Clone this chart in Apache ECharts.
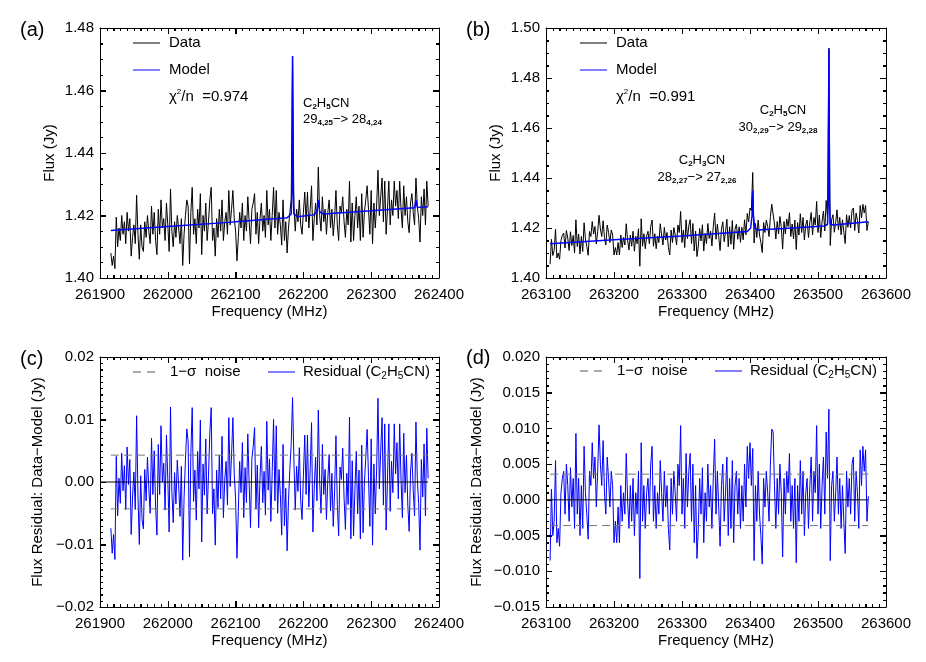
<!DOCTYPE html>
<html>
<head>
<meta charset="utf-8">
<script src="https://cdn.jsdelivr.net/npm/echarts@6/dist/echarts.min.js"></script>
<style>
  html, body { margin: 0; padding: 0; background: #ffffff; }
  #chart { width: 926px; height: 662px; }
</style>
</head>
<body>
<div id="chart"></div>
<script>
// channel grid (MHz)
const STEP = 2
const freqStartA = 261916
const freqStartB = 263106

// (a) observed flux, Jy
const fluxA = [
  1.408, 1.404, 1.407, 1.403, 1.4195, 1.410, 1.416, 1.412, 1.420, 1.414, 1.418, 1.411, 1.421, 1.415, 1.419, 1.407, 1.413, 1.417, 1.411, 1.4265,
  1.414, 1.406, 1.417, 1.410, 1.4085, 1.418, 1.413, 1.420, 1.415, 1.411, 1.423, 1.414, 1.421, 1.412, 1.4075, 1.422, 1.414, 1.425, 1.416, 1.419,
  1.412, 1.424, 1.417, 1.4085, 1.4285, 1.415, 1.410, 1.418, 1.413, 1.420, 1.416, 1.411, 1.419, 1.404, 1.414, 1.420, 1.425, 1.423, 1.4045, 1.421,
  1.429, 1.414, 1.419, 1.411, 1.422, 1.416, 1.427, 1.4075, 1.420, 1.415, 1.424, 1.412, 1.418, 1.425, 1.429, 1.412, 1.416, 1.407, 1.419, 1.413,
  1.422, 1.415, 1.425, 1.412, 1.418, 1.421, 1.414, 1.428, 1.417, 1.422, 1.428, 1.419, 1.415, 1.4055, 1.413, 1.421, 1.416, 1.424, 1.412, 1.420,
  1.415, 1.426, 1.418, 1.411, 1.422, 1.424, 1.427, 1.414, 1.421, 1.411, 1.419, 1.424, 1.415, 1.420, 1.413, 1.428, 1.417, 1.422, 1.412, 1.420,
  1.429, 1.416, 1.428, 1.414, 1.421, 1.417, 1.4105, 1.425, 1.412, 1.418, 1.408, 1.416, 1.421, 1.425, 1.471, 1.423, 1.415, 1.422, 1.418, 1.425,
  1.417, 1.414, 1.421, 1.4275, 1.418, 1.4275, 1.416, 1.422, 1.4295, 1.412, 1.419, 1.424, 1.417, 1.4355, 1.420, 1.415, 1.426, 1.418, 1.422, 1.414,
  1.421, 1.425, 1.416, 1.422, 1.4135, 1.419, 1.428, 1.417, 1.412, 1.423, 1.421, 1.426, 1.418, 1.413, 1.422, 1.417, 1.431, 1.4115, 1.424, 1.412,
  1.420, 1.426, 1.416, 1.423, 1.412, 1.427, 1.413, 1.421, 1.425, 1.4295, 1.422, 1.414, 1.428, 1.411, 1.424, 1.416, 1.423, 1.4345, 1.420, 1.426,
  1.432, 1.418, 1.431, 1.414, 1.422, 1.431, 1.417, 1.425, 1.420, 1.431, 1.423, 1.428, 1.419, 1.431, 1.422, 1.416, 1.4295, 1.420, 1.426, 1.418,
  1.4145, 1.424, 1.427, 1.421, 1.417, 1.432, 1.423, 1.419, 1.4115, 1.426, 1.420, 1.4285, 1.417, 1.431, 1.423
]
// (a) model
const modelAFreq = [261916, 262000, 262090, 262100, 262176, 262182, 262183, 262184, 262185, 262186, 262191, 262215, 262220, 262222, 262224, 262229, 262300, 262364, 262366, 262368, 262384]
const modelAFlux = [1.4152, 1.4165, 1.4178, 1.4180, 1.4193, 1.4205, 1.4280, 1.4710, 1.4280, 1.4205, 1.4196, 1.4202, 1.4212, 1.4250, 1.4212, 1.4205, 1.4215, 1.4225, 1.4250, 1.4226, 1.4228]

// (b) observed flux, Jy
const fluxB = [
  1.4055, 1.4155, 1.409, 1.411, 1.4195, 1.408, 1.410, 1.4075, 1.415, 1.417, 1.418, 1.412, 1.419, 1.416, 1.411, 1.4185, 1.413, 1.417, 1.410, 1.4233,
  1.4126, 1.4176, 1.4096, 1.4166, 1.4106, 1.4221, 1.4156, 1.4126, 1.4091, 1.4186, 1.4166, 1.4226, 1.4176, 1.4206, 1.4136, 1.4186, 1.4251, 1.4196, 1.4166, 1.4229,
  1.4162, 1.4132, 1.4212, 1.4182, 1.4142, 1.4192, 1.4172, 1.4092, 1.4122, 1.4092, 1.4142, 1.4092, 1.4172, 1.4122, 1.4162, 1.4132, 1.4217, 1.4152, 1.4112, 1.4172,
  1.4127, 1.4187, 1.4107, 1.4167, 1.4137, 1.4197, 1.4047, 1.4237, 1.4127, 1.4177, 1.4117, 1.4167, 1.4187, 1.4137, 1.4207, 1.4232, 1.4127, 1.4177, 1.4117, 1.4167,
  1.4142, 1.4217, 1.4172, 1.4132, 1.4202, 1.4152, 1.4182, 1.4122, 1.4092, 1.4192, 1.4142, 1.4202, 1.4172, 1.4132, 1.4212, 1.4182, 1.4266, 1.4142, 1.4192, 1.4122,
  1.4233, 1.4158, 1.4208, 1.4233, 1.4138, 1.4218, 1.4108, 1.4188, 1.4086, 1.4128, 1.4198, 1.4148, 1.4213, 1.4108, 1.4178, 1.4138, 1.4218, 1.4158, 1.4188, 1.4128,
  1.4205, 1.4260, 1.4155, 1.4215, 1.4165, 1.4110, 1.4195, 1.4225, 1.4145, 1.4185, 1.4235, 1.4125, 1.4205, 1.4135, 1.4230, 1.4115, 1.4195, 1.4215, 1.4155, 1.4205,
  1.4143, 1.4203, 1.4153, 1.4233, 1.4173, 1.4258, 1.4224, 1.4280, 1.4270, 1.4422, 1.4140, 1.4218, 1.4162, 1.4232, 1.4172, 1.4142, 1.4102, 1.4222, 1.4182, 1.4232,
  1.4206, 1.4166, 1.4246, 1.4295, 1.4291, 1.4216, 1.4156, 1.4226, 1.4176, 1.4246, 1.4206, 1.4116, 1.4226, 1.4176, 1.4236, 1.4206, 1.4261, 1.4166, 1.4216, 1.4156,
  1.4232, 1.4114, 1.4222, 1.4172, 1.4257, 1.4182, 1.4242, 1.4152, 1.4212, 1.4232, 1.4162, 1.4222, 1.4262, 1.4172, 1.4242, 1.4212, 1.4306, 1.4182, 1.4252, 1.4162,
  1.4228, 1.4268, 1.4188, 1.4310, 1.4240, 1.4920, 1.4130, 1.4233, 1.4253, 1.4183, 1.4223, 1.4273, 1.4193, 1.4243, 1.4173, 1.4233, 1.4183, 1.4138, 1.4253, 1.4203,
  1.4250, 1.4200, 1.4270, 1.4280, 1.4190, 1.4260, 1.4230, 1.4180, 1.4290, 1.4240, 1.4295, 1.4260, 1.4290, 1.4190, 1.4225
]
// (b) model
const modelBFreq = [263106, 263200, 263300, 263396, 263401, 263403, 263404, 263405, 263407, 263411, 263450, 263510, 263514, 263515, 263516, 263517, 263518, 263523, 263574]
const modelBFlux = [1.4137, 1.4153, 1.4168, 1.4186, 1.4200, 1.4250, 1.4350, 1.4250, 1.4200, 1.4192, 1.4198, 1.4208, 1.4215, 1.4300, 1.4915, 1.4300, 1.4215, 1.4212, 1.4225]

// (c) residual, Jy
const residualC = [
  -0.0074, -0.0114, -0.0084, -0.0124, 0.0041, -0.0054, 0.0006, -0.0034, 0.0046, -0.0014, 0.0026, -0.0044, 0.0056, -0.0004, 0.0036, -0.0084, -0.0024, 0.0016, -0.0044, 0.0106,
  -0.0020, -0.0100, 0.0010, -0.0060, -0.0075, 0.0020, -0.0030, 0.0040, -0.0010, -0.0050, 0.0070, -0.0020, 0.0050, -0.0040, -0.0085, 0.0060, -0.0020, 0.0090, 0.0000, 0.0030,
  -0.0045, 0.0075, 0.0005, -0.0080, 0.0120, -0.0015, -0.0065, 0.0015, -0.0035, 0.0035, -0.0005, -0.0055, 0.0025, -0.0125, -0.0025, 0.0035, 0.0085, 0.0065, -0.0120, 0.0045,
  0.0119, -0.0031, 0.0019, -0.0061, 0.0049, -0.0011, 0.0099, -0.0096, 0.0029, -0.0021, 0.0069, -0.0051, 0.0009, 0.0079, 0.0119, -0.0051, -0.0011, -0.0101, 0.0019, -0.0041,
  0.0043, -0.0027, 0.0073, -0.0057, 0.0003, 0.0033, -0.0037, 0.0103, -0.0007, 0.0043, 0.0103, 0.0013, -0.0027, -0.0122, -0.0047, 0.0033, -0.0017, 0.0063, -0.0057, 0.0023,
  -0.0033, 0.0077, -0.0003, -0.0073, 0.0037, 0.0057, 0.0087, -0.0043, 0.0027, -0.0073, 0.0007, 0.0057, -0.0033, 0.0017, -0.0053, 0.0097, -0.0013, 0.0037, -0.0063, 0.0017,
  0.0100, -0.0030, 0.0090, -0.0050, 0.0020, -0.0020, -0.0085, 0.0060, -0.0070, -0.0010, -0.0110, -0.0030, 0.0020, 0.0060, 0.0135, 0.0035, -0.0045, 0.0025, -0.0015, 0.0055,
  -0.0030, -0.0060, 0.0010, 0.0075, -0.0020, 0.0075, -0.0040, 0.0020, 0.0095, -0.0080, -0.0010, 0.0040, -0.0030, 0.0115, 0.0000, -0.0050, 0.0060, -0.0020, 0.0020, -0.0060,
  0.0004, 0.0044, -0.0046, 0.0014, -0.0071, -0.0016, 0.0074, -0.0036, -0.0086, 0.0024, 0.0004, 0.0054, -0.0026, -0.0076, 0.0014, -0.0036, 0.0104, -0.0091, 0.0034, -0.0086,
  -0.0011, 0.0049, -0.0051, 0.0019, -0.0091, 0.0059, -0.0081, -0.0001, 0.0039, 0.0084, 0.0009, -0.0071, 0.0069, -0.0101, 0.0029, -0.0051, 0.0019, 0.0134, -0.0011, 0.0049,
  0.0103, -0.0037, 0.0093, -0.0077, 0.0003, 0.0093, -0.0047, 0.0033, -0.0017, 0.0093, 0.0013, 0.0063, -0.0027, 0.0093, 0.0003, -0.0057, 0.0078, -0.0017, 0.0043, -0.0037,
  -0.0079, 0.0016, 0.0046, -0.0014, -0.0054, 0.0096, 0.0006, -0.0034, -0.0109, 0.0036, -0.0024, 0.0061, -0.0054, 0.0086, 0.0006
]
// (d) residual, Jy
const residualD = [
  -0.0085, 0.0015, -0.005, -0.003, 0.0055, -0.006, -0.004, -0.0065, 0.001, 0.003, 0.004, -0.002, 0.005, 0.002, -0.003, 0.0045, -0.001, 0.003, -0.004, 0.0093,
  -0.002, 0.003, -0.005, 0.002, -0.004, 0.0075, 0.001, -0.002, -0.0055, 0.004, 0.002, 0.008, 0.003, 0.006, -0.001, 0.004, 0.0105, 0.005, 0.002, 0.0083,
  0.001, -0.002, 0.006, 0.003, -0.001, 0.004, 0.002, -0.006, -0.003, -0.006, -0.001, -0.006, 0.002, -0.003, 0.001, -0.002, 0.0065, 0.000, -0.004, 0.002,
  -0.003, 0.003, -0.005, 0.001, -0.002, 0.004, -0.011, 0.008, -0.003, 0.002, -0.004, 0.001, 0.003, -0.002, 0.005, 0.0075, -0.003, 0.002, -0.004, 0.001,
  -0.002, 0.0055, 0.001, -0.003, 0.004, -0.001, 0.002, -0.004, -0.007, 0.003, -0.002, 0.004, 0.001, -0.003, 0.005, 0.002, 0.0104, -0.002, 0.003, -0.004,
  0.0065, -0.001, 0.004, 0.0065, -0.003, 0.005, -0.006, 0.002, -0.0082, -0.004, 0.003, -0.002, 0.0045, -0.006, 0.001, -0.003, 0.005, -0.001, 0.002, -0.004,
  0.003, 0.0085, -0.002, 0.004, -0.001, -0.0065, 0.002, 0.005, -0.003, 0.001, 0.006, -0.005, 0.003, -0.004, 0.0055, -0.006, 0.002, 0.004, -0.002, 0.003,
  -0.004, 0.002, -0.003, 0.005, -0.001, 0.0075, 0.003, 0.008, 0.002, 0.0072, -0.0085, 0.002, -0.003, 0.004, -0.002, -0.005, -0.009, 0.003, -0.001, 0.004,
  0.001, -0.003, 0.005, 0.0099, 0.0095, 0.002, -0.004, 0.003, -0.002, 0.005, 0.001, -0.008, 0.003, -0.002, 0.004, 0.001, 0.0065, -0.003, 0.002, -0.004,
  0.003, -0.0088, 0.002, -0.003, 0.0055, -0.002, 0.004, -0.005, 0.001, 0.003, -0.004, 0.002, 0.006, -0.003, 0.004, 0.001, 0.0104, -0.002, 0.005, -0.004,
  0.002, 0.006, -0.002, 0.0095, 0.003, 0.0127, -0.0085, 0.002, 0.004, -0.003, 0.001, 0.006, -0.002, 0.003, -0.004, 0.002, -0.003, -0.0075, 0.004, -0.001,
  0.003, -0.002, 0.005, 0.006, -0.003, 0.004, 0.001, -0.004, 0.007, 0.002, 0.0075, 0.004, 0.007, -0.003, 0.0005
]
const sigmaC = 0.0043
const sigmaD = 0.0036

// axis ranges: [min, max, major interval, minor splits]
const freqAxisA = [261900, 262400, 100, 10]
const freqAxisB = [263100, 263600, 100, 10]
const fluxAxisA = [1.40, 1.48, 0.02, 4]
const fluxAxisB = [1.40, 1.50, 0.02, 4]
const residAxisC = [-0.02, 0.02, 0.01, 10]
const residAxisD = [-0.015, 0.020, 0.005, 5]

const FONT = 'Liberation Sans, Arial, sans-serif'
const freqA = fluxA.map((_, i) => freqStartA + i * STEP)
const freqB = fluxB.map((_, i) => freqStartB + i * STEP)
const pairs = (xs, ys) => xs.map((x, i) => [x, ys[i]])

const chart = echarts.init(document.getElementById('chart'))

function fmt(digits) {
  return v => {
    if (Math.abs(v) < 1e-9) v = 0
    return v.toFixed(digits).replace('-', '\u2212')
  }
}

function axisBase(g, r) {
  return {
    type: 'value', gridIndex: g, min: r[0], max: r[1], interval: r[2],
    axisLine: { show: true, onZero: false, lineStyle: { color: '#000', width: 1 } },
    axisTick: { show: true, inside: true, length: 6, lineStyle: { color: '#000', width: 1 } },
    minorTick: { show: true, splitNumber: r[3], length: 3, lineStyle: { color: '#000', width: 1 } },
    splitLine: { show: false }
  }
}

function xPair(g, r) {
  const bottom = Object.assign(axisBase(g, r), {
    position: 'bottom',
    axisLabel: { color: '#000', fontSize: 15, fontFamily: FONT, margin: 9, formatter: v => String(v), showMinLabel: true, showMaxLabel: true, hideOverlap: false },
    name: 'Frequency (MHz)', nameLocation: 'middle', nameGap: 26,
    nameTextStyle: { color: '#000', fontSize: 15, fontFamily: FONT }
  })
  const top = Object.assign(axisBase(g, r), { position: 'top', axisLabel: { show: false } })
  return [bottom, top]
}

function yPair(g, r, digits, name, gap) {
  const left = Object.assign(axisBase(g, r), {
    position: 'left',
    axisLabel: { color: '#000', fontSize: 15, fontFamily: FONT, margin: 6, formatter: fmt(digits), showMinLabel: true, showMaxLabel: true },
    name: name, nameLocation: 'middle', nameGap: gap,
    nameTextStyle: { color: '#000', fontSize: 15, fontFamily: FONT }
  })
  const right = Object.assign(axisBase(g, r), { position: 'right', axisLabel: { show: false } })
  return [left, right]
}

const lineSeries = (g, data, color, width, z, dash) => ({
  type: 'line', xAxisIndex: 2 * g, yAxisIndex: 2 * g, data: data,
  showSymbol: false, symbol: 'none', silent: true, z: z,
  lineStyle: { color: color, width: width, type: dash || 'solid' }
})

const richStyle = {
  m: { fontSize: 13, fontFamily: FONT, fill: '#000', lineHeight: 16 },
  s: { fontSize: 8, fontFamily: FONT, fill: '#000', fontWeight: 'bold', lineHeight: 8, verticalAlign: 'bottom' },
  b: { fontSize: 15, fontFamily: FONT, fill: '#000', lineHeight: 18 },
  bs: { fontSize: 10, fontFamily: FONT, fill: '#000', lineHeight: 10, verticalAlign: 'bottom' },
  sup: { fontSize: 8, fontFamily: FONT, fill: '#000', lineHeight: 8, verticalAlign: 'top' }
}

function label(x, y, text, align) {
  return {
    type: 'text', x: x, y: y, silent: true,
    style: { text: text, rich: richStyle, align: align || 'left', verticalAlign: 'middle', fill: '#000' }
  }
}
function plain(x, y, text, size) {
  return {
    type: 'text', x: x, y: y, silent: true,
    style: { text: text, fontSize: size || 15, fontFamily: FONT, fill: '#000', verticalAlign: 'middle' }
  }
}
function seg(x1, x2, y, color, dash) {
  return {
    type: 'line', silent: true,
    shape: { x1: x1, y1: y, x2: x2, y2: y },
    style: { stroke: color, lineWidth: 1, lineDash: dash || null }
  }
}
function tick(x1, y1, x2, y2) {
  return { type: 'line', silent: true, z: 100, shape: { x1: x1, y1: y1, x2: x2, y2: y2 }, style: { stroke: '#000', lineWidth: 1 } }
}

const endA = freqA[freqA.length - 1]
const endB = freqB[freqB.length - 1]

const decor = [
  // panel tags
  plain(20, 30, '(a)', 20),
  plain(466, 30, '(b)', 20),
  plain(20, 359, '(c)', 20),
  plain(466, 358, '(d)', 20),
  // legend (a)
  seg(133, 160, 43, '#000000'),
  plain(169, 43, 'Data'),
  seg(133, 160, 70, '#0000ff'),
  plain(169, 70, 'Model'),
  label(169, 97, '{b|\u03c7}{sup|2}{b|/n  =0.974}'),
  // line id (a)
  label(303, 103, '{m|C}{s|2}{m|H}{s|5}{m|CN}'),
  label(303, 119, '{m|29}{s|4,25}{m|\u2212> 28}{s|4,24}'),
  // legend (b)
  seg(580, 607, 43, '#000000'),
  plain(616, 43, 'Data'),
  seg(580, 607, 70, '#0000ff'),
  plain(616, 70, 'Model'),
  label(616, 97, '{b|\u03c7}{sup|2}{b|/n  =0.991}'),
  // line ids (b)
  label(783, 110, '{m|C}{s|2}{m|H}{s|5}{m|CN}', 'center'),
  label(778, 127, '{m|30}{s|2,29}{m|\u2212> 29}{s|2,28}', 'center'),
  label(702, 160, '{m|C}{s|2}{m|H}{s|3}{m|CN}', 'center'),
  label(697, 177, '{m|28}{s|2,27}{m|\u2212> 27}{s|2,26}', 'center'),
  // legend (c)
  seg(133, 157, 372, '#555555', [8, 6]),
  plain(170, 372, '1\u2212\u03c3  noise'),
  seg(268, 295, 372, '#0000ff'),
  label(303, 372, '{b|Residual (C}{bs|2}{b|H}{bs|5}{b|CN)}'),
  // legend (d)
  seg(580, 603, 371, '#555555', [8, 6]),
  plain(617, 371, '1\u2212\u03c3  noise'),
  seg(715, 742, 371, '#0000ff'),
  label(750, 371, '{b|Residual (C}{bs|2}{b|H}{bs|5}{b|CN)}')
]

chart.setOption({
  backgroundColor: '#ffffff',
  animation: false,
  grid: [
    { left: 100, top: 28, width: 339, height: 250 },
    { left: 546, top: 28, width: 340, height: 250 },
    { left: 100, top: 357, width: 339, height: 250 },
    { left: 546, top: 357, width: 340, height: 250 }
  ],
  xAxis: [].concat(
    xPair(0, freqAxisA),
    xPair(1, freqAxisB),
    xPair(2, freqAxisA),
    xPair(3, freqAxisB)
  ),
  yAxis: [].concat(
    yPair(0, fluxAxisA, 2, 'Flux (Jy)', 43),
    yPair(1, fluxAxisB, 2, 'Flux (Jy)', 43),
    yPair(2, residAxisC, 2, 'Flux Residual: Data\u2212Model (Jy)', 55),
    yPair(3, residAxisD, 3, 'Flux Residual: Data\u2212Model (Jy)', 62)
  ),
  series: [
    lineSeries(0, pairs(freqA, fluxA), '#000000', 1, 2),
    lineSeries(0, pairs(modelAFreq, modelAFlux), '#0000ff', 1.5, 3),
    lineSeries(1, pairs(freqB, fluxB), '#000000', 1, 2),
    lineSeries(1, pairs(modelBFreq, modelBFlux), '#0000ff', 1.5, 3),
    lineSeries(2, pairs(freqA, residualC), '#0000ff', 1, 2),
    lineSeries(2, [[freqAxisA[0], 0], [endA, 0]], '#000000', 1, 4),
    lineSeries(2, [[freqA[0], sigmaC], [endA, sigmaC]], '#777777', 1, 4, [8, 5]),
    lineSeries(2, [[freqA[0], -sigmaC], [endA, -sigmaC]], '#777777', 1, 4, [8, 5]),
    lineSeries(3, pairs(freqB, residualD), '#0000ff', 1, 2),
    lineSeries(3, [[freqAxisB[0], 0], [endB, 0]], '#000000', 1, 4),
    lineSeries(3, [[freqB[0], sigmaD], [endB, sigmaD]], '#777777', 1, 4, [8, 5]),
    lineSeries(3, [[freqB[0], -sigmaD], [endB, -sigmaD]], '#777777', 1, 4, [8, 5])
  ],
  graphic: { elements: decor }
})

// inward ticks on all four sides, placed through the axes' own scales
const boxes = [
  [0, freqAxisA, fluxAxisA],
  [1, freqAxisB, fluxAxisB],
  [2, freqAxisA, residAxisC],
  [3, freqAxisB, residAxisD]
]
const ticks = []
try {
  boxes.forEach(([g, xr, yr]) => {
    const xi = { xAxisIndex: 2 * g }
    const yi = { yAxisIndex: 2 * g }
    const top = chart.convertToPixel(yi, yr[1])
    const bottom = chart.convertToPixel(yi, yr[0])
    const left = chart.convertToPixel(xi, xr[0])
    const right = chart.convertToPixel(xi, xr[1])
    const nx = Math.round((xr[1] - xr[0]) / xr[2] * xr[3])
    for (let k = 0; k <= nx; k++) {
      const px = Math.round(chart.convertToPixel(xi, xr[0] + k * xr[2] / xr[3])) + 0.5
      const len = k % xr[3] === 0 ? 6 : 3
      ticks.push(tick(px, bottom, px, bottom - len), tick(px, top, px, top + len))
    }
    const ny = Math.round((yr[1] - yr[0]) / yr[2] * yr[3])
    for (let k = 0; k <= ny; k++) {
      const py = Math.round(chart.convertToPixel(yi, yr[0] + k * yr[2] / yr[3])) + 0.5
      const len = k % yr[3] === 0 ? 6 : 3
      ticks.push(tick(left, py, left + len, py), tick(right, py, right - len, py))
    }
  })
} catch (e) {
  console.error(e)
}
if (ticks.length) {
  chart.setOption({ graphic: { elements: decor.concat(ticks) } })
}
</script>
</body>
</html>
